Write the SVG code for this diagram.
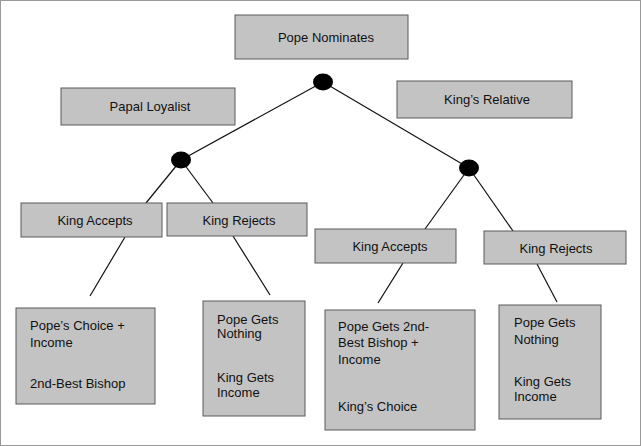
<svg xmlns="http://www.w3.org/2000/svg" width="641" height="446" viewBox="0 0 641 446">
<style>
.b{fill:#c3c3c3;stroke:#5a5a5a;stroke-width:1}
.t{font-family:"Liberation Sans",Arial,sans-serif;font-size:13px;fill:#111}
.c{text-anchor:middle}
.l{stroke:#111;stroke-width:1.2;fill:none}
</style>
<rect x="0.5" y="0.5" width="640" height="445" fill="#fff" stroke="#999"/>
<g id="connectors">
<line class="l" x1="323" y1="82" x2="181" y2="160"/>
<line class="l" x1="323" y1="82" x2="469" y2="168"/>
<line class="l" x1="181" y1="160" x2="146" y2="203"/>
<line class="l" x1="181" y1="160" x2="213" y2="203"/>
<line class="l" x1="469" y1="168" x2="425" y2="229"/>
<line class="l" x1="469" y1="168" x2="513" y2="231"/>
<line class="l" x1="125" y1="237" x2="90" y2="296"/>
<line class="l" x1="233" y1="236" x2="270" y2="295"/>
<line class="l" x1="403" y1="263" x2="378" y2="303"/>
<line class="l" x1="537" y1="264" x2="557" y2="302"/>
</g>
<g id="dots">
<ellipse cx="323" cy="82" rx="10" ry="8.5" fill="#000"/>
<ellipse cx="181" cy="160" rx="10" ry="8.5" fill="#000"/>
<ellipse cx="469" cy="168" rx="10" ry="8.5" fill="#000"/>
</g>
<g id="pope-nominates"><rect class="b" x="235" y="15" width="173" height="44"/><text class="t c" x="326" y="42">Pope Nominates</text></g>
<g id="papal-loyalist"><rect class="b" x="61" y="88" width="174" height="37"/><text class="t c" x="150" y="111">Papal Loyalist</text></g>
<g id="kings-relative"><rect class="b" x="397" y="81" width="175" height="37"/><text class="t c" x="487" y="104">King’s Relative</text></g>
<g id="left-accepts"><rect class="b" x="21" y="203" width="141" height="34"/><text class="t c" x="95" y="225">King Accepts</text></g>
<g id="left-rejects"><rect class="b" x="167" y="203" width="140" height="33"/><text class="t c" x="239" y="225">King Rejects</text></g>
<g id="right-accepts"><rect class="b" x="315" y="229" width="141" height="34"/><text class="t c" x="390" y="251">King Accepts</text></g>
<g id="right-rejects"><rect class="b" x="484" y="231" width="142" height="33"/><text class="t c" x="556" y="253">King Rejects</text></g>
<g id="outcome1"><rect class="b" x="16" y="308" width="139" height="96"/>
<text class="t" x="30" y="330">Pope’s Choice +</text><text class="t" x="30" y="347">Income</text><text class="t" x="30" y="388">2nd-Best Bishop</text></g>
<g id="outcome2"><rect class="b" x="203" y="301" width="102" height="115"/>
<text class="t" x="217" y="324">Pope Gets</text><text class="t" x="217" y="338">Nothing</text><text class="t" x="217" y="382">King Gets</text><text class="t" x="217" y="397">Income</text></g>
<g id="outcome3"><rect class="b" x="325" y="310" width="150" height="120"/>
<text class="t" x="338" y="331">Pope Gets 2nd-</text><text class="t" x="338" y="347">Best Bishop +</text><text class="t" x="338" y="364">Income</text><text class="t" x="338" y="411">King’s Choice</text></g>
<g id="outcome4"><rect class="b" x="499" y="305" width="102" height="114"/>
<text class="t" x="514" y="327">Pope Gets</text><text class="t" x="514" y="344">Nothing</text><text class="t" x="514" y="386">King Gets</text><text class="t" x="514" y="401">Income</text></g>
</svg>
